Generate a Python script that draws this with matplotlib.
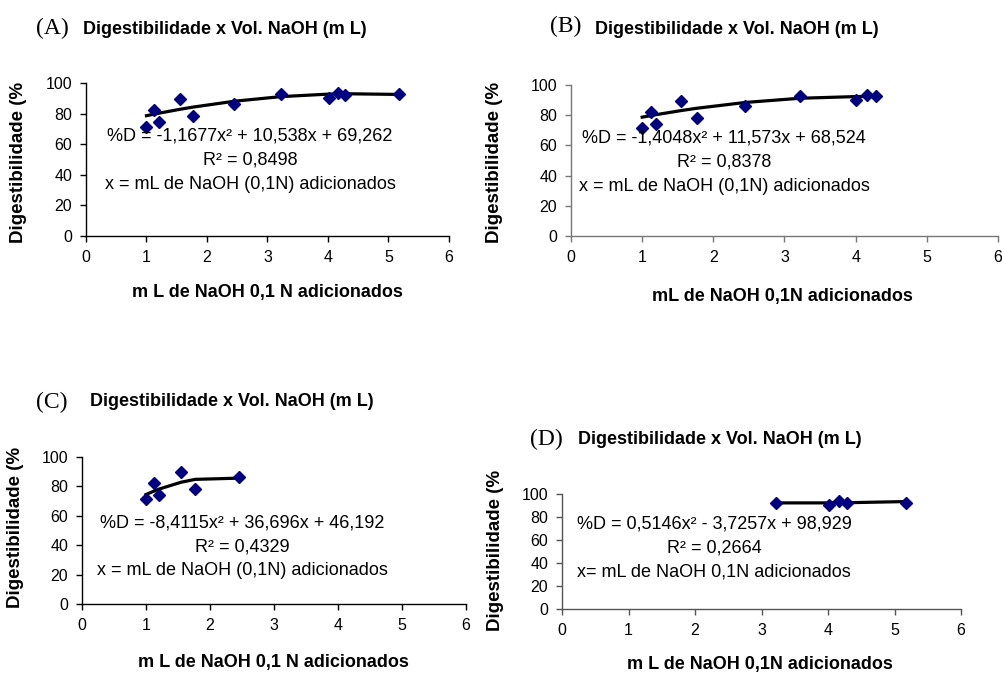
import numpy as np
import matplotlib.pyplot as plt

plt.rcParams['font.family'] = ['Liberation Sans', 'DejaVu Sans']

# dados: volume de NaOH (mL) e digestibilidade (%)
vol = [1.0, 1.12, 1.2, 1.55, 1.77, 2.45, 3.22, 4.01, 4.16, 4.28, 5.17]
dig = [71.5, 82.4, 74.2, 89.5, 78.4, 86.3, 92.5, 90.3, 93.7, 92.4, 92.5]

# coeficientes das linhas de tendencia (x^2, x, cte)
coef_a = [-1.1677, 10.538, 69.262]
coef_b = [-1.4048, 11.573, 68.524]
coef_c = [-8.4115, 36.696, 46.192]
coef_d = [0.5146, -3.7257, 98.929]

eq_a = "%D = -1,1677x² + 10,538x + 69,262\nR² = 0,8498\nx = mL de NaOH (0,1N) adicionados"
eq_b = "%D = -1,4048x² + 11,573x + 68,524\nR² = 0,8378\nx = mL de NaOH (0,1N) adicionados"
eq_c = "%D = -8,4115x² + 36,696x + 46,192\nR² = 0,4329\nx = mL de NaOH (0,1N) adicionados"
eq_d = "%D = 0,5146x² - 3,7257x + 98,929\nR² = 0,2664\nx= mL de NaOH 0,1N adicionados"

W, H = 1003, 673
fig = plt.figure(figsize=(W / 100, H / 100), dpi=100)


def px(x, y):
    return x / W, 1 - y / H


# (letra, intervalo dos pontos, coef, equacao, caixa em px, cor do eixo,
#  pos. letra, pos. titulo, rotulo x, pos. rotulo x, pos. rotulo y, pos. equacao)
paineis = [
    ("(A)", slice(0, 11), coef_a, eq_a, (86, 83, 449, 236), "black",
     (36, 28), (83, 29), "m L de NaOH 0,1 N adicionados", (267, 292), (19, 162), (2.71, 49.7)),
    ("(B)", slice(0, 10), coef_b, eq_b, (571, 85, 998, 236), "#777777",
     (550, 26), (595, 29), "mL de NaOH 0,1N adicionados", (782, 297), (495, 162), (2.15, 49.1)),
    ("(C)", slice(0, 6), coef_c, eq_c, (82, 457, 466, 604), "black",
     (36, 402), (90, 402), "m L de NaOH 0,1 N adicionados", (273, 662), (16, 527), (2.51, 39)),
    ("(D)", slice(6, 11), coef_d, eq_d, (562, 494, 961, 609), "#555555",
     (530, 439), (578, 440), "m L de NaOH 0,1N adicionados", (760, 665), (496, 550), (2.29, 53)),
]

for (letra, sl, coef, eq, box, cor, p_letra, p_tit, xlab, p_xlab, p_ylab, p_eq) in paineis:
    x0, y0, x1, y1 = box
    ax = fig.add_axes([x0 / W, 1 - y1 / H, (x1 - x0) / W, (y1 - y0) / H])
    xs = np.array(vol[sl])
    ys = np.array(dig[sl])
    ordem = np.argsort(xs)
    ax.plot(xs[ordem], np.polyval(coef, xs[ordem]), color='black', lw=2.3, zorder=2)
    ax.plot(xs, ys, linestyle='none', marker='D', markersize=6.5,
            color='#000080', zorder=3)
    ax.set_xlim(0, 6)
    ax.set_ylim(0, 100)
    ax.set_xticks(range(0, 7))
    ax.set_yticks(range(0, 101, 20))
    for s in ['top', 'right']:
        ax.spines[s].set_visible(False)
    for s in ['left', 'bottom']:
        ax.spines[s].set_color(cor)
        ax.spines[s].set_linewidth(1.0)
    ax.tick_params(direction='out', length=4, width=1, color=cor,
                   labelsize=11.5, pad=6)
    ax.text(p_eq[0], p_eq[1], eq, ha='center', va='center', fontsize=13,
            linespacing=1.55, zorder=4)

    fig.text(*px(*p_letra), letra, family='Liberation Serif', fontsize=17,
             ha='left', va='center')
    fig.text(*px(*p_tit), "Digestibilidade x Vol. NaOH (m L)", fontsize=13,
             fontweight='bold', ha='left', va='center')
    fig.text(*px(*p_xlab), xlab, fontsize=13, fontweight='bold',
             ha='center', va='center')
    fig.text(*px(*p_ylab), "Digestibilidade (%", fontsize=13.5,
             fontweight='bold', rotation=90, ha='center', va='center')

plt.savefig("out.png", dpi=100)
